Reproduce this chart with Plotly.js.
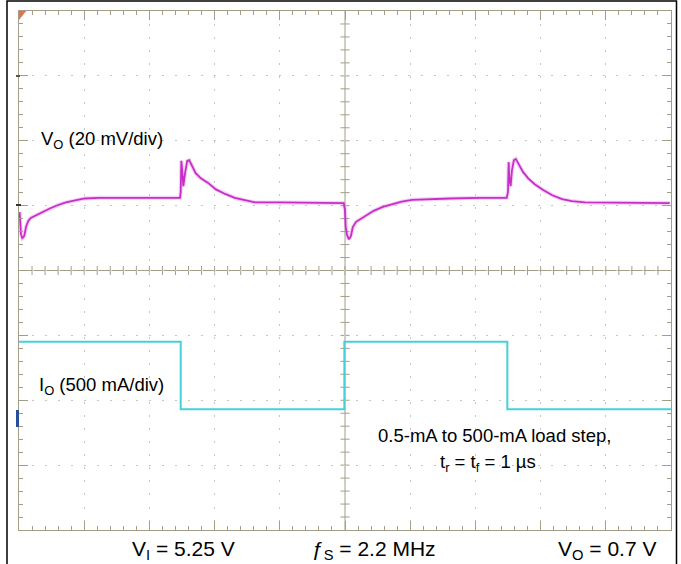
<!DOCTYPE html>
<html>
<head>
<meta charset="utf-8">
<script src="https://cdn.plot.ly/plotly-3.0.1.min.js"></script>
<style>
html,body{margin:0;padding:0;background:#fff;}
#chart{width:681px;height:564px;}
</style>
</head>
<body>
<div id="chart"></div>
<script>
// Screen positions in oscilloscope divisions (10 horizontal x 8 vertical)
const voTime = [0.01,0.02,0.03,0.05,0.08,0.11,0.14,0.18,0.26,0.35,0.48,0.60,0.72,0.86,1.01,1.24,1.70,2.16,2.47,
  2.48,2.49,2.51,2.52,2.55,2.58,2.61,2.65,2.71,2.79,2.90,3.02,3.16,3.31,3.47,3.62,4.00,4.46,4.98,
  5.00,5.01,5.03,5.06,5.09,5.12,5.17,5.23,5.32,5.44,5.58,5.72,5.87,6.03,6.23,6.61,7.07,7.48,
  7.50,7.51,7.52,7.54,7.56,7.59,7.62,7.67,7.73,7.81,7.91,8.04,8.18,8.33,8.48,8.68,9.22,9.68,9.98];
const voLevel = [4.90,4.70,4.56,4.50,4.53,4.68,4.76,4.81,4.85,4.90,4.96,5.01,5.05,5.08,5.11,5.12,5.12,5.12,5.12,
  5.21,5.69,5.46,5.30,5.52,5.69,5.70,5.61,5.50,5.42,5.35,5.25,5.18,5.12,5.08,5.05,5.05,5.05,5.04,
  4.93,4.68,4.55,4.48,4.53,4.67,4.75,4.79,4.85,4.92,4.98,5.02,5.06,5.09,5.10,5.11,5.12,5.12,
  5.21,5.67,5.43,5.30,5.54,5.70,5.72,5.62,5.52,5.42,5.33,5.24,5.16,5.10,5.07,5.05,5.05,5.05,5.04];
const ioTime  = [0, 2.48, 2.48, 4.99, 4.99, 7.49, 7.49, 10];
const ioLevel = [2.90, 2.90, 1.86, 1.86, 2.90, 2.90, 1.86, 1.86];

const labelVo = "V<sub>O</sub> (20 mV/div)";
const labelIo = "I<sub>O</sub> (500 mA/div)";
const noteLine1 = "0.5-mA to 500-mA load step,";
const noteLine2 = "t<sub>r</sub> = t<sub>f</sub> = 1 µs";
const footVi = "V<sub>I</sub> = 5.25 V";
const footFs = "ƒ<sub>S</sub> = 2.2 MHz";
const footVo = "V<sub>O</sub> = 0.7 V";

const gridCol = '#a39e88';
const dotCol = '#c6c6c6';
const FONT = 'Arial, "Liberation Sans", sans-serif';

// center-cross minor ticks
let pth = '';
const hx = 0.07, hy = 0.07;
for (let i = 1; i < 50; i++) { const x = i*0.2; pth += `M${x},${4-hy}L${x},${4+hy}`; }
for (let j = 1; j < 40; j++) { const y = j*0.2; pth += `M${5-hx},${y}L${5+hx},${y}`; }

const shapes = [
  {type:'line', xref:'x', yref:'y', x0:5, x1:5, y0:0, y1:8, line:{color:gridCol, width:1}, layer:'below'},
  {type:'line', xref:'x', yref:'y', x0:0, x1:10, y0:4, y1:4, line:{color:gridCol, width:1}, layer:'below'},
  {type:'path', xref:'x', yref:'y', path:pth, line:{color:gridCol, width:1}, layer:'below'},
  // trigger marker
  {type:'path', xref:'x', yref:'y', path:'M0,8L0.11,8L0,7.86Z', fillcolor:'#e8704a', line:{width:0}},
  // outer frame
  {type:'rect', xref:'paper', yref:'paper', x0:-12/652, x1:657.5/652, y0:-40/519, y1:529/519,
   line:{color:'#000', width:1.5}, fillcolor:'rgba(0,0,0,0)'},
  // channel markers on the left edge
  {type:'line', xref:'paper', yref:'paper', x0:-3/652, x1:2/652, y0:325/519, y1:325/519, line:{color:'#333', width:2}},
  {type:'line', xref:'paper', yref:'paper', x0:-3/652, x1:1/652, y0:454/519, y1:454/519, line:{color:'#555', width:2}},
  {type:'rect', xref:'paper', yref:'paper', x0:-3/652, x1:0, y0:103/519, y1:120/519, fillcolor:'#2a4f9a', line:{width:0}}
];

const axisBase = {
  showticklabels:false, ticks:'inside', ticklen:9, tickwidth:1, tickcolor:gridCol,
  showline:true, linecolor:gridCol, linewidth:1, mirror:'ticks',
  showgrid:true, gridcolor:dotCol, gridwidth:1, zeroline:false, fixedrange:true,
  tick0:0, dtick:1
};

const data = [
  {x:voTime, y:voLevel, mode:'lines', line:{color:'rgba(228,120,228,0.35)', width:4}, hoverinfo:'skip', showlegend:false},
  {x:voTime, y:voLevel, mode:'lines', line:{color:'#c62fc6', width:1.8}, hoverinfo:'skip', showlegend:false},
  {x:ioTime, y:ioLevel, mode:'lines', line:{color:'#45d0da', width:2}, hoverinfo:'skip', showlegend:false}
];

const layout = {
  width:681, height:564,
  margin:{l:19, r:10, t:11, b:34, pad:0},
  paper_bgcolor:'#fff', plot_bgcolor:'#fff',
  showlegend:false,
  font:{family:FONT, size:18, color:'#000'},
  xaxis:Object.assign({}, axisBase, {range:[0,10], griddash:'2px,11.04px',
    minor:{dtick:0.2, tick0:0, ticks:'inside', ticklen:4, tickcolor:gridCol, showgrid:false}}),
  yaxis:Object.assign({}, axisBase, {range:[0,8], griddash:'2px,10.98px',
    minor:{dtick:0.2, tick0:0, ticks:'inside', ticklen:4, tickcolor:gridCol, showgrid:false}}),
  shapes:shapes,
  annotations:[
    {text:labelVo, xref:'x', yref:'y', x:0.3, y:6.01, xanchor:'left', yanchor:'middle', showarrow:false, font:{size:18.5}},
    {text:labelIo, xref:'x', yref:'y', x:0.27, y:2.22, xanchor:'left', yanchor:'middle', showarrow:false, font:{size:18.5}},
    {text:noteLine1, xref:'x', yref:'y', x:7.29, y:1.45, xanchor:'center', yanchor:'middle', showarrow:false, font:{size:18.5}},
    {text:noteLine2, xref:'x', yref:'y', x:7.19, y:1.03, xanchor:'center', yanchor:'middle', showarrow:false, font:{size:18.5}},
    {text:footVi, xref:'paper', yref:'paper', x:164/652, y:-20/519, xanchor:'center', yanchor:'middle', showarrow:false, font:{size:21}},
    {text:footFs, xref:'paper', yref:'paper', x:355/652, y:-20/519, xanchor:'center', yanchor:'middle', showarrow:false, font:{size:21}},
    {text:footVo, xref:'paper', yref:'paper', x:588/652, y:-20/519, xanchor:'center', yanchor:'middle', showarrow:false, font:{size:21}}
  ]
};

Plotly.newPlot('chart', data, layout, {staticPlot:true, displayModeBar:false});
</script>
</body>
</html>
